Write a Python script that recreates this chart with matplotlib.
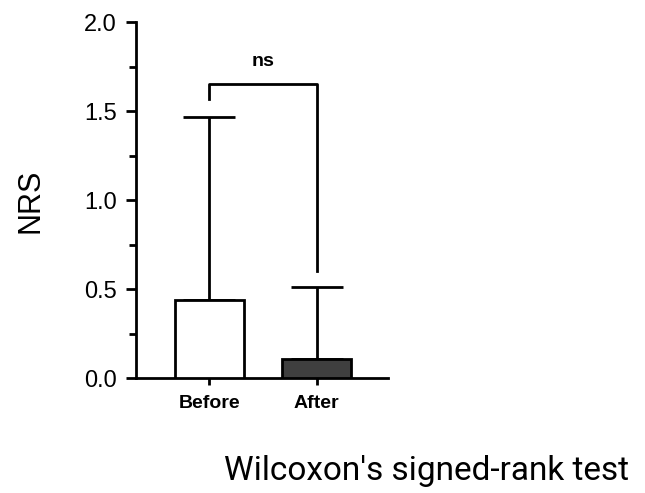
import matplotlib
matplotlib.use("Agg")
import matplotlib.pyplot as plt

# NRS scores before/after, mean with upper SD whisker
groups = ["Before", "After"]
means = [0.44, 0.11]
sds = [1.03, 0.40]
bar_colors = ["white", "#3f3f3f"]
sig_label = "ns"
sig_y = 1.65
sig_drop = [1.57, 0.60]

plt.rcParams["font.family"] = ["Liberation Sans", "DejaVu Sans"]

fig = plt.figure(figsize=(6.45, 4.93), dpi=100)
ax = fig.add_axes([0.211, 0.233, 0.39, 0.722])

x = list(range(len(groups)))
ax.bar(x, means, width=0.64, color=bar_colors, edgecolor="black", linewidth=2, zorder=3)
ax.errorbar(x, means, yerr=[[0, 0], sds], fmt="none", ecolor="black",
            elinewidth=2, capsize=19, capthick=2, zorder=2)

# significance bracket
ax.plot([x[0], x[0], x[1], x[1]], [sig_drop[0], sig_y, sig_y, sig_drop[1]],
        color="black", lw=2, clip_on=False)
ax.text((x[0] + x[1]) / 2, sig_y + 0.08, sig_label, ha="center", va="bottom",
        fontsize=14, fontweight="bold")

ax.set_xlim(-0.68, 1.66)
ax.set_ylim(0, 2.0)
ax.set_yticks([0, 0.5, 1.0, 1.5, 2.0])
ax.set_yticklabels(["0.0", "0.5", "1.0", "1.5", "2.0"], fontsize=17)
ax.set_yticks([0.25, 0.75, 1.25, 1.75], minor=True)
ax.set_xticks(x)
ax.set_xticklabels(groups, fontsize=14, fontweight="bold")

for side in ["top", "right"]:
    ax.spines[side].set_visible(False)
ax.spines["left"].set_linewidth(2)
ax.spines["bottom"].set_linewidth(2)
ax.tick_params(axis="y", which="major", length=7, width=2, pad=7)
ax.tick_params(axis="y", which="minor", length=5, width=2)
ax.tick_params(axis="x", length=5, width=2, pad=7)

fig.text(0.047, 0.592, "NRS", rotation=90, ha="center", va="center", fontsize=22)
fig.text(0.975, 0.045, "Wilcoxon's signed-rank test", ha="right", va="center",
         fontsize=24, family=["Roboto", "DejaVu Sans"])

fig.savefig("out.png", dpi=100)
